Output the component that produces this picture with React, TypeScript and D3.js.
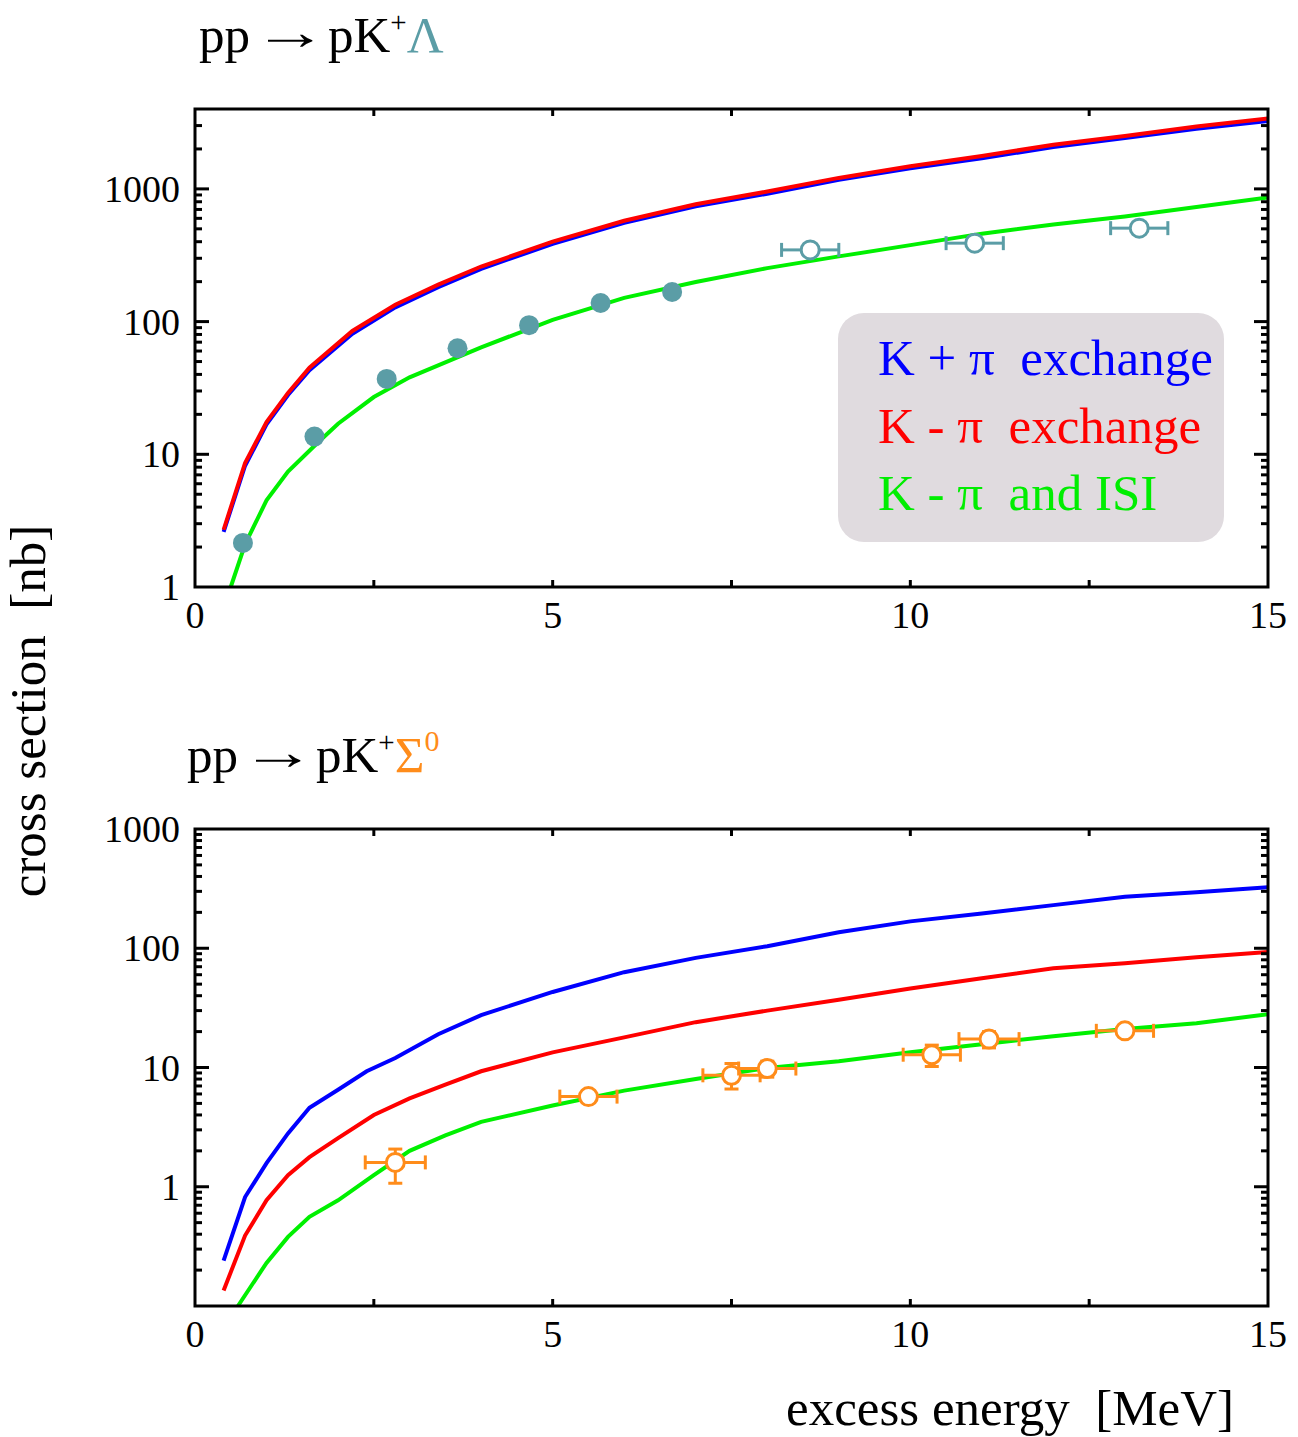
import React from "react";
import * as d3 from "d3";

// ---------- data ----------
const xTop = [0.4, 0.7, 1.0, 1.3, 1.6, 2.2, 2.8, 3.4, 4, 5, 6, 7, 8, 9, 10, 11, 12, 13, 14, 15];
const lamRed = [2.7, 8.6, 17.5, 29, 45, 85, 134, 190, 260, 400, 575, 765, 955, 1210, 1480, 1770, 2150, 2500, 2950, 3400];
const lamBlue = [2.6, 8.2, 16.8, 28, 43, 81, 128, 182, 250, 385, 555, 740, 920, 1170, 1430, 1700, 2070, 2420, 2840, 3250];
const xGreenTop = [0.5, 0.7, 1.0, 1.3, 1.7, 2.0, 2.5, 3, 4, 5, 6, 7, 8, 9, 10, 11, 12, 13, 14, 15];
const lamGreen = [1.0, 2.1, 4.5, 7.4, 12, 17, 27, 38, 64, 103, 151, 199, 253, 310, 377, 460, 540, 620, 730, 860];

const lamFilledX = [0.67, 1.67, 2.68, 3.67, 4.67, 5.67, 6.67];
const lamFilledY = [2.15, 13.6, 37, 63, 94, 138, 167];
const lamOpenX = [8.6, 10.9, 13.2];
const lamOpenY = [347, 390, 506];
const lamOpenXErr = [0.4, 0.4, 0.4];

const xSig = [0.4, 0.7, 1.0, 1.3, 1.6, 2.0, 2.4, 2.8, 3.4, 4, 5, 6, 7, 8, 9, 10, 11, 12, 13, 14, 15];
const sigBlue = [0.24, 0.82, 1.58, 2.8, 4.6, 6.5, 9.3, 12, 19, 27.5, 43, 63, 83, 104, 136, 168, 196, 230, 270, 295, 325];
const xSigRed = [0.4, 0.7, 1.0, 1.3, 1.6, 2.0, 2.5, 3, 3.5, 4, 5, 6, 7, 8, 9, 10, 11, 12, 13, 14, 15];
const sigRed = [0.135, 0.39, 0.77, 1.25, 1.77, 2.56, 4.0, 5.5, 7.2, 9.3, 13.4, 17.9, 24, 30, 37, 46, 56, 68, 75, 84, 93];
const xSigGreen = [0.6, 1.0, 1.3, 1.6, 2.0, 2.5, 3, 3.5, 4, 5, 6, 7, 8, 9, 10, 11, 12, 13, 14, 15];
const sigGreen = [0.1, 0.23, 0.38, 0.56, 0.77, 1.25, 2.0, 2.7, 3.5, 4.8, 6.4, 8.0, 9.9, 11.3, 13.4, 15.7, 18.3, 21, 23.5, 28];

const sigX = [2.8, 5.5, 7.5, 8.0, 10.3, 11.1, 13.0];
const sigY = [1.6, 5.7, 8.6, 9.8, 12.8, 17.3, 20.3];
const sigXErr = [0.42, 0.4, 0.4, 0.4, 0.4, 0.42, 0.4];
const sigYLo = [1.07, 5.3, 6.6, 8.3, 10.2, 14.6, 19.0];
const sigYHi = [2.07, 6.1, 10.8, 11.3, 15.4, 20.0, 21.5];

const xTickLabels = [0, 5, 10, 15];
const xTicksAll = [2.5, 5, 7.5, 10, 12.5];
const yLabelsTop = [1, 10, 100, 1000];
const yLabelsBot = [1, 10, 100, 1000];

const legendItems = [
  { pre: "K + \u03c0", post: "exchange", color: "#0000ff" },
  { pre: "K - \u03c0", post: "exchange", color: "#ff0000" },
  { pre: "K - \u03c0", post: "and ISI", color: "#00ee00" },
];

const BLUE = "#0000ff";
const RED = "#ff0000";
const GREEN = "#00f000";
const TEAL = "#5b9da6";
const ORANGE = "#ff8c1a";
const FONT = "'Liberation Serif', 'Times New Roman', serif";

const X0 = 195;
const X1 = 1268;

function logTicks(lo: number, hi: number) {
  const t: number[] = [];
  for (let e = Math.floor(Math.log10(lo)); e <= Math.ceil(Math.log10(hi)); e++) {
    for (let m = 1; m < 10; m++) {
      const v = m * Math.pow(10, e);
      if (v > lo * 1.0001 && v < hi * 0.9999) t.push(v);
    }
  }
  return t;
}

function Frame({ x, y, top, bottom, yLabels }: any) {
  const ticks = logTicks(y.domain()[0], y.domain()[1]);
  return (
    <g>
      {ticks.map((v: number, i: number) => {
        const major = Math.abs(Math.log10(v) - Math.round(Math.log10(v))) < 1e-6;
        const L = major ? 14 : 7;
        return (
          <g key={i}>
            <line x1={X0} x2={X0 + L} y1={y(v)} y2={y(v)} stroke="#000" strokeWidth={3} />
            <line x1={X1} x2={X1 - L} y1={y(v)} y2={y(v)} stroke="#000" strokeWidth={3} />
          </g>
        );
      })}
      {xTicksAll.map((v, i) => (
        <g key={i}>
          <line x1={x(v)} x2={x(v)} y1={bottom} y2={bottom - 7} stroke="#000" strokeWidth={3} />
          <line x1={x(v)} x2={x(v)} y1={top} y2={top + 7} stroke="#000" strokeWidth={3} />
        </g>
      ))}
      <rect x={X0} y={top} width={X1 - X0} height={bottom - top} fill="none" stroke="#000" strokeWidth={3} />
      {xTickLabels.map((v, i) => (
        <text key={i} x={x(v)} y={bottom + 41} textAnchor="middle" fontSize={38} fontFamily={FONT}>
          {v}
        </text>
      ))}
      {yLabels.map((v: number, i: number) => (
        <text key={i} x={180} y={y(v) + 13} textAnchor="end" fontSize={38} fontFamily={FONT}>
          {v}
        </text>
      ))}
    </g>
  );
}

function Title({ x0, y0, particle, color, sup }: any) {
  return (
    <g fontFamily={FONT}>
      <text x={x0} y={y0} fontSize={51}>pp</text>
      <text
        x={x0 + 54}
        y={y0 - 3}
        fontSize={51}
        textLength={75}
        lengthAdjust="spacingAndGlyphs"
      >
        {"\u2192"}
      </text>
      <text x={x0 + 129} y={y0} fontSize={51}>
        pK
        <tspan dy={-20} fontSize={29}>+</tspan>
        <tspan dy={20} fill={color}>{particle}</tspan>
        {sup ? (
          <tspan dy={-21} fontSize={30} fill={color}>
            {sup}
          </tspan>
        ) : null}
      </text>
    </g>
  );
}

export default function App() {
  const x = d3.scaleLinear().domain([0, 15]).range([X0, X1]);
  const yT = d3.scaleLog().domain([1, 4000]).range([587, 109]);
  const yB = d3.scaleLog().domain([0.1, 1000]).range([1306, 829]);

  const mk = (xs: number[], ys: number[], ys2: any) =>
    d3.line<number>().x((_, i) => x(xs[i])).y((v) => ys2(v))(ys) || "";

  return (
    <svg width={1298} height={1437} style={{ position: "absolute", left: 0, top: 0, background: "#fff" }}>
      <defs>
        <clipPath id="clipTop">
          <rect x={X0} y={109} width={X1 - X0} height={587 - 109} />
        </clipPath>
        <clipPath id="clipBot">
          <rect x={X0} y={829} width={X1 - X0} height={1306 - 829} />
        </clipPath>
      </defs>

      {/* titles */}
      <Title x0={199} y0={52} particle={"\u039b"} color={TEAL} />
      <Title x0={187} y0={772} particle={"\u03a3"} color={ORANGE} sup="0" />

      {/* top panel */}
      <g clipPath="url(#clipTop)">
        <path d={mk(xTop, lamBlue, yT)} fill="none" stroke={BLUE} strokeWidth={4} />
        <path d={mk(xTop, lamRed, yT)} fill="none" stroke={RED} strokeWidth={4} />
        <path d={mk(xGreenTop, lamGreen, yT)} fill="none" stroke={GREEN} strokeWidth={4} />
      </g>
      {lamFilledX.map((v, i) => (
        <circle key={i} cx={x(v)} cy={yT(lamFilledY[i])} r={10} fill={TEAL} />
      ))}
      {lamOpenX.map((v, i) => {
        const cx = x(v), cy = yT(lamOpenY[i]);
        const xl = x(v - lamOpenXErr[i]), xr = x(v + lamOpenXErr[i]);
        return (
          <g key={i} stroke={TEAL} strokeWidth={3} fill="none">
            <line x1={xl} x2={cx - 9} y1={cy} y2={cy} />
            <line x1={cx + 9} x2={xr} y1={cy} y2={cy} />
            <line x1={xl} x2={xl} y1={cy - 7} y2={cy + 7} />
            <line x1={xr} x2={xr} y1={cy - 7} y2={cy + 7} />
            <circle cx={cx} cy={cy} r={9} fill="#fff" />
          </g>
        );
      })}
      <Frame x={x} y={yT} top={109} bottom={587} yLabels={yLabelsTop} />

      {/* legend */}
      <rect x={838} y={313} width={386} height={229} rx={26} ry={26} fill="#e0dbdf" />
      {legendItems.map((it, i) => (
        <text key={i} x={878} y={375 + i * 67.5} fontSize={51} fontFamily={FONT} fill={it.color} xmlSpace="preserve">
          {it.pre + "  " + it.post}
        </text>
      ))}

      {/* bottom panel */}
      <g clipPath="url(#clipBot)">
        <path d={mk(xSig, sigBlue, yB)} fill="none" stroke={BLUE} strokeWidth={4} />
        <path d={mk(xSigRed, sigRed, yB)} fill="none" stroke={RED} strokeWidth={4} />
        <path d={mk(xSigGreen, sigGreen, yB)} fill="none" stroke={GREEN} strokeWidth={4} />
      </g>
      {sigX.map((v, i) => {
        const cx = x(v), cy = yB(sigY[i]);
        const xl = x(v - sigXErr[i]), xr = x(v + sigXErr[i]);
        const yl = yB(sigYLo[i]), yh = yB(sigYHi[i]);
        return (
          <g key={i} stroke={ORANGE} strokeWidth={3} fill="none">
            <line x1={xl} x2={xr} y1={cy} y2={cy} />
            <line x1={xl} x2={xl} y1={cy - 7} y2={cy + 7} />
            <line x1={xr} x2={xr} y1={cy - 7} y2={cy + 7} />
            <line x1={cx} x2={cx} y1={yl} y2={yh} />
            <line x1={cx - 7} x2={cx + 7} y1={yl} y2={yl} />
            <line x1={cx - 7} x2={cx + 7} y1={yh} y2={yh} />
            <circle cx={cx} cy={cy} r={9} fill="#fff" />
          </g>
        );
      })}
      <Frame x={x} y={yB} top={829} bottom={1306} yLabels={yLabelsBot} />

      {/* axis titles */}
      <text
        transform="translate(45, 711) rotate(-90)"
        textAnchor="middle"
        fontSize={51}
        fontFamily={FONT}
        xmlSpace="preserve"
      >
        {"cross section  [nb]"}
      </text>
      <text x={1234} y={1425} textAnchor="end" fontSize={51} fontFamily={FONT} xmlSpace="preserve">
        {"excess energy  [MeV]"}
      </text>
    </svg>
  );
}
